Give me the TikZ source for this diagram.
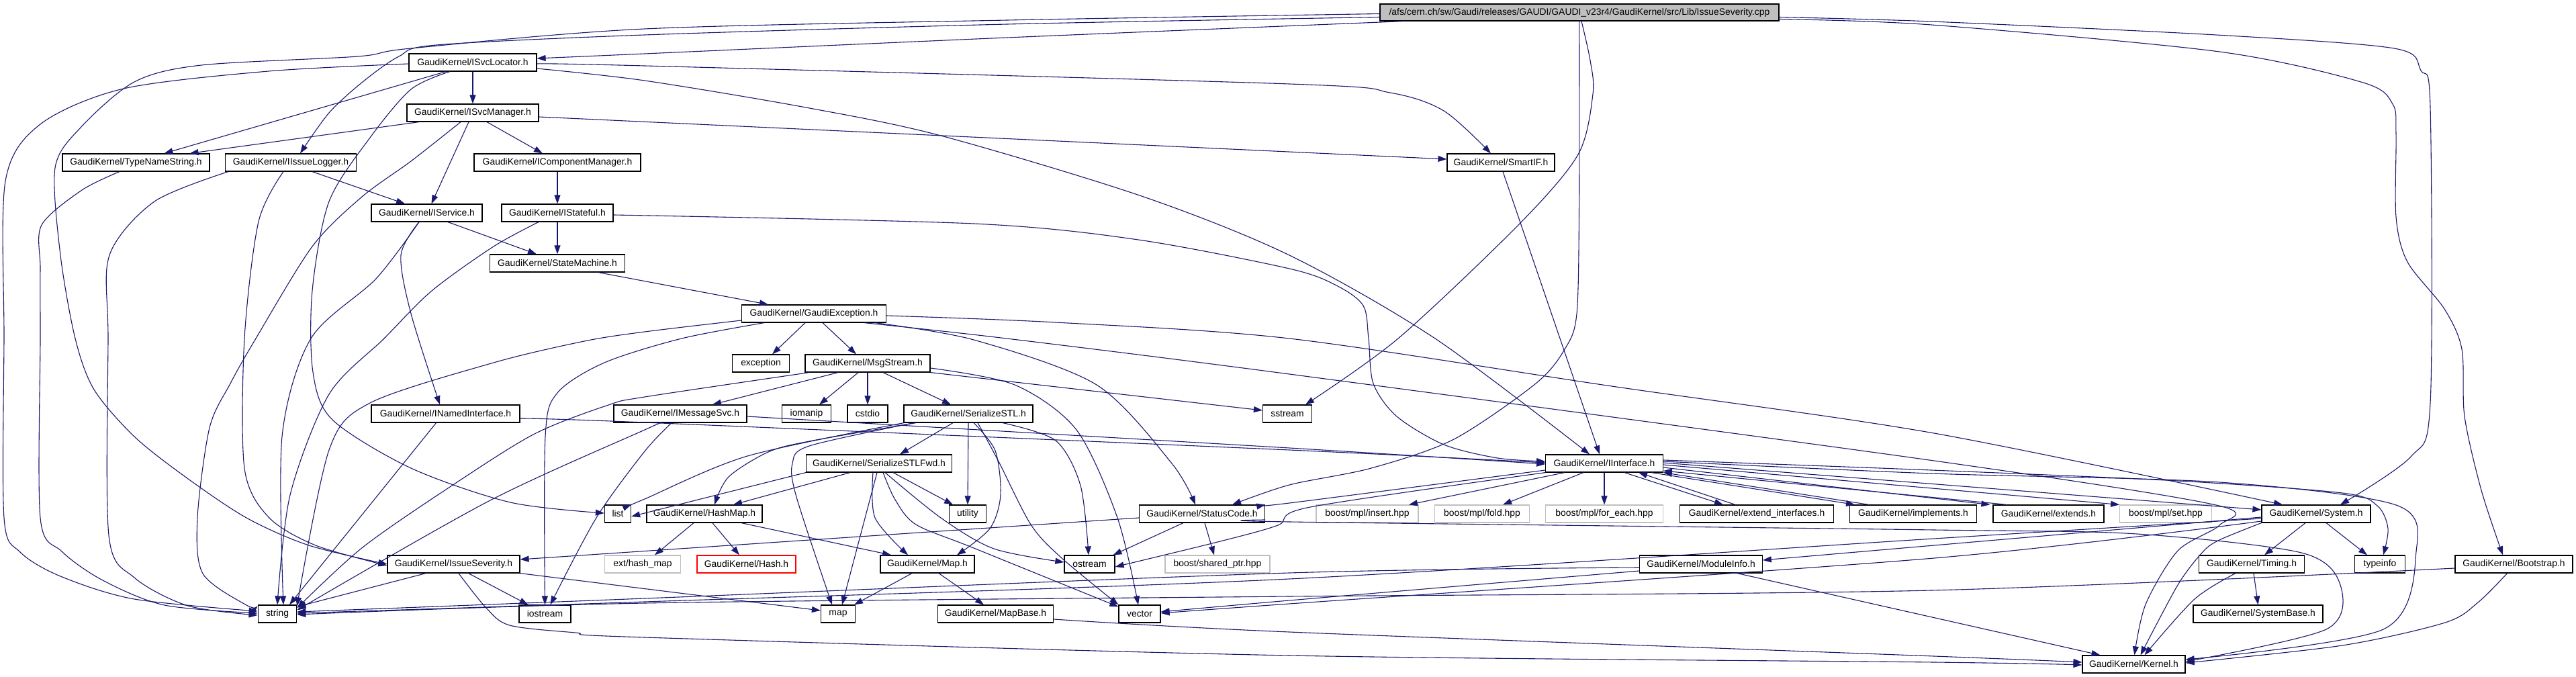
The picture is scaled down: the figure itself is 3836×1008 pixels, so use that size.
\documentclass[tikz,border=0pt]{standalone}
\usepackage{fontspec}
\setmainfont{Liberation Sans}
\usetikzlibrary{arrows.meta}
\definecolor{edgec}{HTML}{191970}
\definecolor{grayb}{HTML}{BFBFBF}
\newcommand\lab{\fontsize{13.9}{16}\selectfont}
\tikzset{
 nb/.style={draw=black, line width=1.2pt, fill=white, minimum height=26, inner sep=0pt, font=\lab},
 gb/.style={nb, draw=grayb},
 rb/.style={nb, draw=red},
 rootb/.style={nb, fill=grayb, minimum height=25},
 e/.style={draw=edgec, line width=1.1pt, -{Triangle[length=13pt,width=9pt]}},
}
\begin{document}
\begin{tikzpicture}[x=1pt,y=-1pt]
\useasboundingbox (0,0) rectangle (3836,1008);
\fill[white] (0,0) rectangle (3836,1008);
% nodes
\node[rootb, minimum width=594] (root) at (2352,18.5) {/afs/cern.ch/sw/Gaudi/releases/GAUDI/GAUDI\_v23r4/GaudiKernel/src/Lib/IssueSeverity.cpp};
\node[nb, minimum width=190] (isl) at (704,93) {GaudiKernel/ISvcLocator.h};
\node[nb, minimum width=196] (ism) at (704,168) {GaudiKernel/ISvcManager.h};
\node[nb, minimum width=219] (tns) at (202.5,242) {GaudiKernel/TypeNameString.h};
\node[nb, minimum width=195] (iil) at (433,242) {GaudiKernel/IIssueLogger.h};
\node[nb, minimum width=248] (icm) at (830,242) {GaudiKernel/IComponentManager.h};
\node[nb, minimum width=160] (smif) at (2235,242) {GaudiKernel/SmartIF.h};
\node[nb, minimum width=165] (isv) at (635.5,317) {GaudiKernel/IService.h};
\node[nb, minimum width=166] (ist) at (830,317) {GaudiKernel/IStateful.h};
\node[nb, minimum width=201] (stm) at (830,392) {GaudiKernel/StateMachine.h};
\node[nb, minimum width=215] (gex) at (1212,467) {GaudiKernel/GaudiException.h};
\node[nb, minimum width=84.5] (exc) at (1133,541) {exception};
\node[nb, minimum width=186] (msg) at (1292,541) {GaudiKernel/MsgStream.h};
\node[nb, minimum width=221] (inm) at (663.5,616) {GaudiKernel/INamedInterface.h};
\node[nb, minimum width=198] (ims) at (1013,616) {GaudiKernel/IMessageSvc.h};
\node[nb, minimum width=73.5] (iom) at (1201,616) {iomanip};
\node[nb, minimum width=60] (csd) at (1292,616) {cstdio};
\node[nb, minimum width=192] (ser) at (1442,616) {GaudiKernel/SerializeSTL.h};
\node[nb, minimum width=73] (sss) at (1917,616) {sstream};
\node[nb, minimum width=217] (sfw) at (1309,690) {GaudiKernel/SerializeSTLFwd.h};
\node[nb, minimum width=174.5] (iif) at (2389,690) {GaudiKernel/IInterface.h};
\node[nb, minimum width=39] (lst) at (920,765) {list};
\node[nb, minimum width=172] (hmap) at (1049,765) {GaudiKernel/HashMap.h};
\node[nb, minimum width=55] (uti) at (1441,765) {utility};
\node[nb, minimum width=187] (stc) at (1790,765) {GaudiKernel/StatusCode.h};
\node[gb, minimum width=152] (bins) at (2036,765) {boost/mpl/insert.hpp};
\node[gb, minimum width=141.5] (bfold) at (2207,765) {boost/mpl/fold.hpp};
\node[gb, minimum width=174.5] (bfe) at (2389,765) {boost/mpl/for\_each.hpp};
\node[nb, minimum width=229.5] (exi) at (2616,765) {GaudiKernel/extend\_interfaces.h};
\node[nb, minimum width=189] (impl) at (2849,765) {GaudiKernel/implements.h};
\node[nb, minimum width=165] (ext) at (3050.5,765) {GaudiKernel/extends.h};
\node[gb, minimum width=136.5] (bset) at (3225,765) {boost/mpl/set.hpp};
\node[nb, minimum width=162] (sys) at (3449,765) {GaudiKernel/System.h};
\node[nb, minimum width=197] (iss) at (675.5,840) {GaudiKernel/IssueSeverity.h};
\node[gb, minimum width=113.5] (ehm) at (957,840) {ext/hash\_map};
\node[rb, minimum width=147] (hsh) at (1111.5,840) {GaudiKernel/Hash.h};
\node[nb, minimum width=140] (mph) at (1381,840) {GaudiKernel/Map.h};
\node[nb, minimum width=75] (ost) at (1622.5,840) {ostream};
\node[gb, minimum width=156] (bsp) at (1813,840) {boost/shared\_ptr.hpp};
\node[nb, minimum width=182.5] (mod) at (2533,840) {GaudiKernel/ModuleInfo.h};
\node[nb, minimum width=156.7] (tim) at (3353,840) {GaudiKernel/Timing.h};
\node[nb, minimum width=74.7] (tpi) at (3544,840) {typeinfo};
\node[nb, minimum width=175] (boot) at (3743.5,840) {GaudiKernel/Bootstrap.h};
\node[nb, minimum width=57.5] (str) at (413,914) {string};
\node[nb, minimum width=77] (ios) at (811.5,914) {iostream};
\node[nb, minimum width=51] (mp) at (1248,914) {map};
\node[nb, minimum width=172] (mpb) at (1482.5,914) {GaudiKernel/MapBase.h};
\node[nb, minimum width=62] (vec) at (1697,914) {vector};
\node[nb, minimum width=193] (sbase) at (3362.5,914) {GaudiKernel/SystemBase.h};
\node[nb, minimum width=153] (ker) at (3177.5,989) {GaudiKernel/Kernel.h};

% root edges
\draw[e] plot[smooth] coordinates {([yshift=-2]root.west) (1500,30) (960,43) (612,72) (533,84) (300,97) (200,122) (120,190) (82,250) (90,380) (112,504) (140,580) (200,650) (276,710) (367,771) (460,812) (iss.west)};
\draw[e] plot[smooth] coordinates {([yshift=-7]root.west) (1500,36) (960,52) (650,67) (594,84) (540,122) (490,168) ([xshift=14]iil.north)};
\draw[e] plot[smooth] coordinates {([xshift=36]root.south west) (1500,56) (960,80) ([yshift=6]isl.east)};
\draw[e] plot[smooth] coordinates {([xshift=-0.4]root.south) (2351.6,300) (2348,467) (2330,520) (2287,571) (2165,654) (2042,697) (1920,722) ([xshift=45]stc.north)};
\draw[e] plot[smooth] coordinates {([xshift=3]root.south) (2368,90) (2372,140) (2350,230) (2263,333) (2082,504) ([xshift=27]sss.north)};
\draw[e] plot[smooth] coordinates {([yshift=-7]root.east) (2876,32) (3300,52) (3565,72) (3605,105) (3619,160) (3619,600) (3590,680) ([xshift=36]sys.north)};
\draw[e] plot[smooth] coordinates {([yshift=-10]root.east) (2876,37) (3305,77) (3519,123) (3563,155) (3568,200) (3568,323) (3585,390) (3640,460) (3666,520) (3670,620) (3695,730) ([xshift=-16.5]boot.north)};

% ISvcLocator
\draw[e] (isl.south) -- (ism.north);
\draw[e] ([xshift=-40]isl.south) -- ([xshift=42]tns.north);
\draw[e] plot[smooth] coordinates {([yshift=-2]isl.west) (400,106) (184,132) (60,185) (8,270) (6,504) (6,771) (30,822) (90,858) (200,892) ([yshift=4]str.west)};
\draw[e] plot[smooth] coordinates {([xshift=-34]isl.south) (612,133) (551,205) (490,300) (465,433) (466,554) (495,625) (612,697) (760,748) ([yshift=1]lst.west)};
\draw[e] plot[smooth] coordinates {([yshift=-2]isl.east) (960,98) (1920,125) (2070,138) (2150,165) ([xshift=-15]smif.north)};
\draw[e] plot[smooth] coordinates {([yshift=-9]isl.east) (960,120) (1200,160) (1401,202) (1700,292) (1920,380) (2137,504) ([xshift=-22]iif.north)};

% ISvcManager
\draw[e] ([xshift=-80]ism.south) -- ([xshift=80]tns.north);
\draw[e] ([xshift=21]ism.south) -- ([xshift=-22]icm.north);
\draw[e] ([xshift=-6]ism.south) -- ([xshift=7]isv.north);
\draw[e] ([yshift=-6]ism.east) -- ([yshift=5]smif.west);
\draw[e] plot[smooth] coordinates {([xshift=-18]ism.south) (612,240) (539,293) (465,367) (381,504) (343,571) (312,637) (294,771) (302,854) (367,901) ([yshift=-2]str.north west)};

% TypeNameString, IIssueLogger
\draw[e] plot[smooth] coordinates {([xshift=-24.5]tns.south) (122,283) (62,335) (60,400) (60,504) (60,771) (92,821) (153,864) (245,901) ([yshift=1]str.west)};
\draw[e] plot[smooth] coordinates {([xshift=-93]iil.south) (230,300) (163,380) (161,504) (162,797) (200,860) (280,902) ([yshift=-2]str.west)};
\draw[e] plot[smooth] coordinates {([xshift=-11]iil.south) (385,330) (364,504) (364,697) (400,770) (470,812) ([yshift=-2]iss.west)};
\draw[e] ([xshift=32]iil.south) -- ([xshift=-32.5]isv.north);

% IComponentManager, IService, IStateful
\draw[e] (icm.south) -- (ist.north);
\draw[e] ([xshift=31.5]isv.south) -- ([xshift=-31]stm.north);
\draw[e] plot[smooth] coordinates {([xshift=-11.5]isv.south) (560,415) (463,504) (420,650) ([xshift=9]str.north)};
\draw[e] plot[smooth] coordinates {([xshift=-11.5]isv.south) (597,380) (612,467) ([xshift=-8.5]inm.north)};
\draw[e] plot[smooth] coordinates {([xshift=-28]ist.south) (735,367) (643,433) (572,504) (490,587) (432,737) (str.north)};
\draw[e] (ist.south) -- (stm.north);
\draw[e] plot[smooth] coordinates {([yshift=-3]ist.east) (1450,333) (1695,357) (1920,400) (1990,425) (2030,455) (2038,504) (2045,571) (2080,620) (2150,662) (2230,682) ([yshift=3]iif.west)};
\draw[e] ([xshift=61]stm.south) -- ([xshift=-68]gex.north);
\draw[e] ([xshift=3]smif.south) -- ([xshift=-7]iif.north);

% GaudiException
\draw[e] ([xshift=-13]gex.south) -- ([xshift=17]exc.north);
\draw[e] ([xshift=13]gex.south) -- ([xshift=-17]msg.north);
\draw[e] plot[smooth] coordinates {([yshift=-10]gex.west) (960,494) (870,508) (735,540) (551,600) (490,670) ([yshift=-2]str.north east)};
\draw[e] plot[smooth] coordinates {([xshift=-74]gex.south) (1015,504) (900,540) (830,585) (812,650) (ios.north)};
\draw[e] plot[smooth] coordinates {([xshift=91]gex.south) (1450,506) (1633,573) (1745,690) ([xshift=-10]stc.north)};
\draw[e] plot[smooth] coordinates {([yshift=-3]gex.east) (1572,480) (1920,504) (2400,575) (2880,645) ([xshift=-50]sys.north)};
\draw[e] plot[smooth] coordinates {([xshift=75]gex.south) (1499,504) (1920,557) (2880,686) (3300,752) (3305,782) (3243,820) (3195,900) ([xshift=1]ker.north)};

% MsgStream
\draw[e] plot[smooth] coordinates {([xshift=-87]msg.south) (960,591) (906,603) (796,646) (673,723) (540,815) ([yshift=-5]str.north east)};
\draw[e] ([xshift=-44]msg.south) -- ([xshift=48]ims.north);
\draw[e] ([xshift=-14]msg.south) -- ([xshift=19]iom.north);
\draw[e] (msg.south) -- (csd.north);
\draw[e] ([xshift=23]msg.south) -- ([xshift=-26]ser.north);
\draw[e] plot[smooth] coordinates {([yshift=-7]msg.east) (1511,573) (1603,640) (1664,771) ([xshift=-2]vec.north)};
\draw[e] (msg.south east) -- ([yshift=5]sss.west);

% INamedInterface, IMessageSvc
\draw[e] plot[smooth] coordinates {([yshift=-7]inm.east) (960,629) (1920,670) ([yshift=1]iif.west)};
\draw[e] ([xshift=-14]inm.south) -- ([xshift=18]str.north);
\draw[e] plot[smooth] coordinates {([yshift=-4]ims.east) (1920,667) ([yshift=-1]iif.west)};
\draw[e] plot[smooth] coordinates {([xshift=-29]ims.south) (960,640) (728,746) ([yshift=-8]str.north east)};
\draw[e] plot[smooth] coordinates {([xshift=-13]ims.south) (960,672) (888,771) ([xshift=8]ios.north)};

% SerializeSTL
\draw[e] ([xshift=-23]ser.south) -- ([xshift=31]sfw.north);
\draw[e] (ser.south) -- (uti.north);
\draw[e] plot[smooth] coordinates {([xshift=-78]ser.south) (1205,657) (1144,673) (1085,710) ([xshift=15]hmap.north)};
\draw[e] plot[smooth] coordinates {([xshift=-96]ser.south) (1113,679) (960,743) (lst.north east)};
\draw[e] plot[smooth] coordinates {([xshift=-81]ser.south) (1205,664) (1180,690) (1186,740) ([xshift=-9]mp.north)};
\draw[e] plot[smooth] coordinates {([xshift=8]ser.south) (1482,671) (1490,737) (1474,787) ([xshift=44]mph.north)};
\draw[e] plot[smooth] coordinates {([xshift=14]ser.south) (1487,687) (1535,781) (1580,830) (vec.north west)};
\draw[e] plot[smooth] coordinates {([xshift=51]ser.south) (1572,656) (1609,723) ([xshift=-1.5]ost.north)};

% SerializeSTLFwd
\draw[e] (sfw.south west) -- ([yshift=-4]lst.east);
\draw[e] ([xshift=-43]sfw.south) -- ([xshift=43]hmap.north);
\draw[e] ([xshift=21]sfw.south) -- ([xshift=-22]uti.north);
\draw[e] ([xshift=-3]sfw.south) -- ([xshift=6]mp.north);
\draw[e] plot[smooth] coordinates {([xshift=-9]sfw.south) (1303,771) ([xshift=-29]mph.north)};
\draw[e] plot[smooth] coordinates {([xshift=9]sfw.south) (1401,771) (1480,817) ([yshift=3]ost.west)};
\draw[e] plot[smooth] coordinates {([xshift=6]sfw.south) (1333,744) (1364,781) (1450,816) ([yshift=-3]vec.north west)};

% HashMap, Map, MapBase
\draw[e] ([xshift=-16]hmap.south) -- ([xshift=18]ehm.north);
\draw[e] ([xshift=12]hmap.south) -- ([xshift=-10.5]hsh.north);
\draw[e] ([xshift=55]hmap.south) -- ([xshift=-54]mph.north);
\draw[e] ([xshift=-23]mph.south) -- ([xshift=24]mp.north);
\draw[e] ([xshift=17]mph.south) -- ([xshift=-17.5]mpb.north);
\draw[e] plot[smooth] coordinates {([yshift=-8]mpb.east) (1920,941) (2880,977) ([yshift=3]ker.west)};

% StatusCode
\draw[e] ([yshift=-6]stc.west) -- ([yshift=7]iss.east);
\draw[e] ([xshift=-28]stc.south) -- ([xshift=35]ost.north);
\draw[e] ([xshift=4]stc.south) -- ([xshift=-5]bsp.north);
\draw[e] plot[smooth] coordinates {([yshift=-9]stc.east) (1920,777) (2880,789) (3182,795) (3427,823) (3485,871) (3464,937) ([yshift=4]ker.east)};

% IInterface
\draw[e] plot[smooth] coordinates {([yshift=-10]iif.west) (1920,749) (stc.north east)};
\draw[e] plot[smooth] coordinates {(iif.south west) (1951,755) (1903,782) (1817,806) ([yshift=-4]ost.east)};
\draw[e] ([xshift=-59]iif.south) -- ([xshift=62]bins.north);
\draw[e] ([xshift=-31]iif.south) -- ([xshift=31]bfold.north);
\draw[e] (iif.south) -- (bfe.north);
\draw[e] ([xshift=30]iif.south) -- ([xshift=-50]exi.north);
\draw[e] ([xshift=-32]exi.north) -- ([xshift=51]iif.south);
\draw[e] ([xshift=70]iif.south) -- ([xshift=-87]impl.north);
\draw[e] ([xshift=-66]impl.north) -- (iif.south east);
\draw[e] ([yshift=-6]iif.east) -- ([xshift=-4]ext.north west);
\draw[e] ([xshift=-62]ext.north) -- ([yshift=-11]iif.east);
\draw[e] ([yshift=-2]iif.east) -- (bset.north west);
\draw[e] ([yshift=1]iif.east) -- ([yshift=6]sys.west);
\draw[e] plot[smooth] coordinates {([yshift=5]iif.east) (2876,700) (3243,716) (3488,734) (3540,753) (3556,787) ([xshift=5]tpi.north)};
\draw[e] plot[smooth] coordinates {([yshift=3]iif.east) (2876,705) (3305,718) (3568,752) (3598,821) (3549,937) ([yshift=7]ker.east)};

% System
\draw[e] ([yshift=-5]sys.west) -- ([yshift=6]mod.east);
\draw[e] plot[smooth] coordinates {([yshift=-7]sys.west) (2880,802) (1920,862) (960,896) ([yshift=1]str.east)};
\draw[e] plot[smooth] coordinates {([yshift=-11]sys.west) (2880,831) (1920,899) ([yshift=1]vec.east)};
\draw[e] ([xshift=-16]sys.south) -- ([xshift=19]tim.north);
\draw[e] ([xshift=15]sys.south) -- ([xshift=-19]tpi.north);
\draw[e] plot[smooth] coordinates {(sys.south west) (3305,804) (3280,822) (3243,871) ([xshift=10]ker.north)};

% ModuleInfo, Timing, Bootstrap
\draw[e] plot[smooth] coordinates {([yshift=-5]mod.west) (1920,853) (960,891) ([yshift=3]str.east)};
\draw[e] plot[smooth] coordinates {([yshift=-10]mod.west) (1920,894) ([yshift=3]vec.east)};
\draw[e] ([xshift=54]mod.south) -- ([xshift=-50]ker.north);
\draw[e] plot[smooth] coordinates {([xshift=-24]tim.south) (3268,892) ([xshift=16]ker.north)};
\draw[e] ([xshift=3]tim.south) -- (sbase.north);
\draw[e] plot[smooth] coordinates {([xshift=-10]boot.south) (3690,897) (3641,927) (3488,961) ([yshift=2]ker.east)};
\draw[e] plot[smooth] coordinates {([yshift=-6]boot.west) (2876,879) (1920,888) (960,898) ([yshift=-1]str.east)};

% IssueSeverity
\draw[e] ([xshift=-41.5]iss.south) -- ([yshift=-3]str.north east);
\draw[e] ([xshift=22]iss.south) -- ([xshift=-25]ios.north);
\draw[e] (iss.south east) -- ([yshift=5]mp.west);
\draw[e] plot[smooth] coordinates {([xshift=7.5]iss.south) (723,904) (759,931) (857,942) (960,949) (1920,976) (2880,986) ([yshift=-1]ker.west)};
\end{tikzpicture}
\end{document}
